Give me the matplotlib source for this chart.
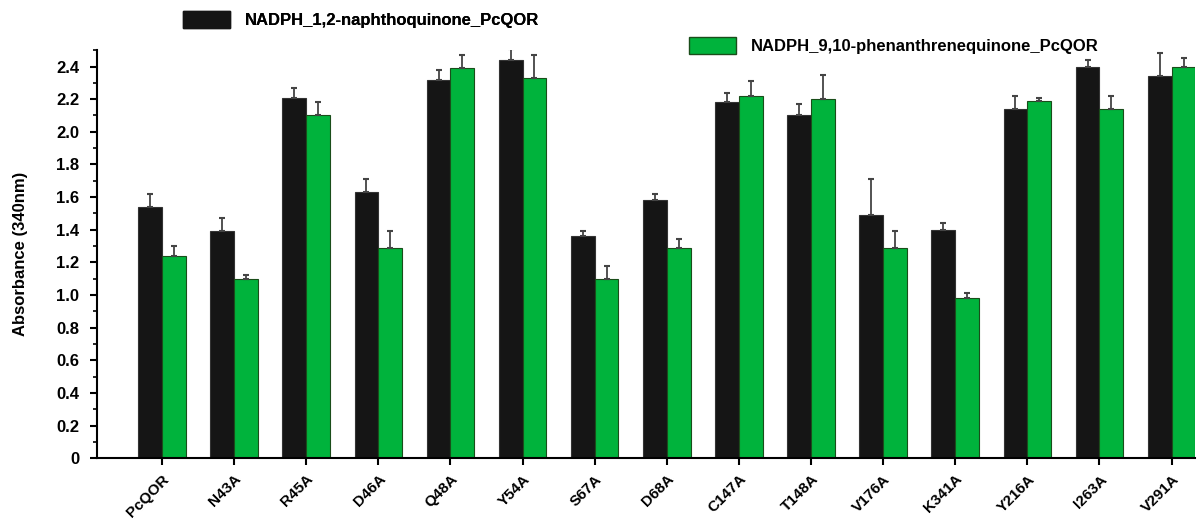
import matplotlib
matplotlib.use("Agg")
import matplotlib.pyplot as plt
import numpy as np
from matplotlib.patches import Patch
from matplotlib.ticker import MultipleLocator

plt.rcParams['font.family'] = ['Liberation Sans', 'DejaVu Sans']
plt.rcParams['font.weight'] = 'bold'

mutants = ["PcQOR", "N43A", "R45A", "D46A", "Q48A", "Y54A", "S67A", "D68A",
           "C147A", "T148A", "V176A", "K341A", "Y216A", "I263A", "V291A"]
naphtho = [1.54, 1.39, 2.21, 1.63, 2.32, 2.44, 1.36, 1.58,
           2.18, 2.10, 1.49, 1.40, 2.14, 2.40, 2.34]
naphtho_err = [0.08, 0.08, 0.06, 0.08, 0.06, 0.07, 0.03, 0.04,
               0.06, 0.07, 0.22, 0.04, 0.08, 0.04, 0.14]
phen = [1.24, 1.10, 2.10, 1.29, 2.39, 2.33, 1.10, 1.29,
        2.22, 2.20, 1.29, 0.98, 2.19, 2.14, 2.40]
phen_err = [0.06, 0.02, 0.08, 0.10, 0.08, 0.14, 0.08, 0.05,
            0.09, 0.15, 0.10, 0.03, 0.02, 0.08, 0.05]
labels = ["NADPH_1,2-naphthoquinone_PcQOR", "NADPH_9,10-phenanthrenequinone_PcQOR"]

black = "#151515"
green = "#00b33c"

fig = plt.figure(figsize=(11.99, 5.23), dpi=100)
ax = fig.add_axes([0.081, 0.124, 0.916, 0.78])

x = np.arange(len(mutants))
w = 0.33
err_kw = dict(ecolor="#444444", elinewidth=1.3, capsize=2.5, capthick=1.5)
ax.bar(x - w / 2, naphtho, w, color=black, edgecolor="#333333", linewidth=0.8,
       yerr=[np.zeros(len(x)), naphtho_err], error_kw=err_kw)
ax.bar(x + w / 2, phen, w, color=green, edgecolor="#1a4d1a", linewidth=0.8,
       yerr=[np.zeros(len(x)), phen_err], error_kw=err_kw)

ax.set_xlim(-0.9, 14.33)
ax.set_ylim(0, 2.5)
ax.yaxis.set_minor_locator(MultipleLocator(0.1))
ax.set_yticks(np.arange(0, 2.41, 0.2))
ax.set_yticklabels(["0"] + ["%.1f" % v for v in np.arange(0.2, 2.41, 0.2)], fontsize=12)
ax.set_xticks(x)
ax.set_xticklabels(mutants, rotation=45, ha="right", rotation_mode="anchor", fontsize=11)
ax.set_ylabel("Absorbance (340nm)", fontsize=12, fontweight="bold", labelpad=20)

for side in ["top", "right"]:
    ax.spines[side].set_visible(False)
for side in ["left", "bottom"]:
    ax.spines[side].set_linewidth(1.5)
ax.tick_params(axis="both", which="major", width=1.5, length=5, direction="out")
ax.tick_params(axis="y", which="minor", width=1.2, length=3)
ax.tick_params(axis="y", which="major", pad=8)
ax.tick_params(axis="x", pad=5)

leg1 = fig.legend(handles=[Patch(facecolor=black, edgecolor=black)], labels=[labels[0]],
                  loc="center left", bbox_to_anchor=(0.14, 0.962), frameon=False,
                  fontsize=12, handlelength=2.8, handleheight=1.2, handletextpad=0.9)
fig.legend(handles=[Patch(facecolor=green, edgecolor="#1a4d1a")], labels=[labels[1]],
           loc="center left", bbox_to_anchor=(0.562, 0.913), frameon=False,
           fontsize=12, handlelength=2.8, handleheight=1.2, handletextpad=0.9)
fig.add_artist(leg1)

fig.savefig("out.png", dpi=100)
